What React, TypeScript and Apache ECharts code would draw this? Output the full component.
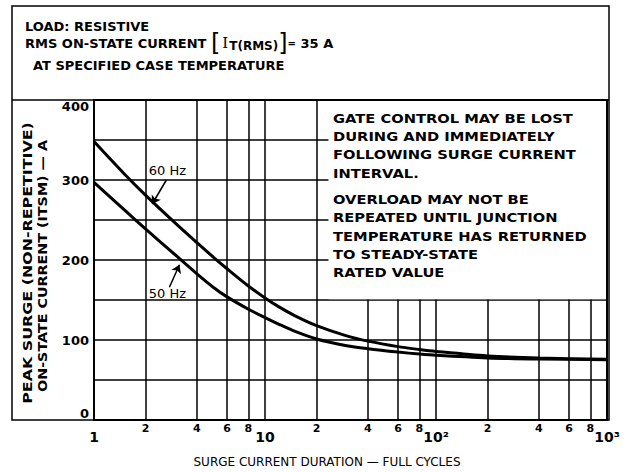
import React, { useEffect, useRef } from 'react';
import * as echarts from 'echarts';

// ---- data ----
const cycles = [1, 1.5, 2, 3, 4, 5, 6, 8, 10, 12, 15, 20, 30, 40, 60, 80, 100, 200, 400, 1000];
const surge60Hz = [348, 307.8, 281.1, 245.8, 221.7, 203.4, 189.1, 167.5, 152.5, 141.7, 130.2, 118, 105.2, 98.6, 91.7, 88.1, 85.7, 80.1, 77.4, 75.9];
const surge50Hz = [297, 262.9, 239, 206, 182.7, 165.7, 153.9, 138.5, 128, 119.9, 110.7, 101.3, 92.9, 89.1, 84.9, 82.4, 80.8, 77.6, 76.2, 75.4];

const xGridValues = [1, 2, 4, 6, 8, 10, 20, 40, 60, 80, 100, 200, 400, 600, 800, 1000];
const xTickLabels = ['1', '2', '4', '6', '8', '10', '2', '4', '6', '8', '10²', '2', '4', '6', '8', '10³'];
const decadeValues = [1, 10, 100, 1000];

const headerLine1 = 'LOAD: RESISTIVE';
const headerLine3 = 'AT SPECIFIED CASE TEMPERATURE';
const noteLines = [
  'GATE CONTROL MAY BE LOST',
  'DURING AND IMMEDIATELY',
  'FOLLOWING SURGE CURRENT',
  'INTERVAL.',
  'OVERLOAD MAY NOT BE',
  'REPEATED UNTIL JUNCTION',
  'TEMPERATURE HAS RETURNED',
  'TO STEADY-STATE',
  'RATED VALUE',
];
const noteY = [118, 136, 154, 173, 199, 217, 236, 254, 272];
const yNameLines = ['PEAK SURGE (NON-REPETITIVE)', 'ON-STATE CURRENT (ITSM) — A'];
const xName = 'SURGE CURRENT DURATION — FULL CYCLES';

const FONT = 'DejaVu Sans';
const G = { left: 94, top: 100, right: 607, bottom: 420 };

export default function App() {
  const ref = useRef<HTMLDivElement>(null);
  useEffect(() => {
    if (!ref.current) return;
    const chart = echarts.init(ref.current, null, { renderer: 'svg' });
    const s60 = cycles.map((c, i) => [c, surge60Hz[i]]);
    const s50 = cycles.map((c, i) => [c, surge50Hz[i]]);

    const graphics: any[] = [
      {
        type: 'rect', z: 100,
        shape: { x: 12, y: 6, width: 597, height: G.bottom - 6 },
        style: { fill: 'none', stroke: '#000', lineWidth: 1.5 },
      },
      {
        type: 'rect', z: 100,
        shape: { x: G.left, y: G.top, width: G.right - G.left, height: G.bottom - G.top },
        style: { fill: 'none', stroke: '#000', lineWidth: 2 },
      },
      {
        type: 'line', z: 100,
        shape: { x1: 12, y1: G.top, x2: 609, y2: G.top },
        style: { stroke: '#000', lineWidth: 1.5 },
      },
      {
        type: 'text', x: 25, y: 26, z: 100,
        style: { text: headerLine1, font: `bold 13px "${FONT}"`, fill: '#000', textVerticalAlign: 'middle' },
      },
      {
        type: 'text', x: 25, y: 43, z: 100,
        style: {
          text: 'RMS ON-STATE CURRENT {b|[}{i|I}{s|T(RMS)}{b|]}{e|=} 35 A',
          font: `bold 13px "${FONT}"`, fill: '#000', textVerticalAlign: 'middle',
          rich: {
            b: { fontSize: 24, fontFamily: FONT, fontWeight: 'normal', lineHeight: 24 },
            i: { fontSize: 15, fontFamily: 'DejaVu Serif', padding: [0, 1, 0, 2] },
            s: { fontSize: 12, fontFamily: FONT, fontWeight: 'bold', padding: [6, 0, 0, 0] },
            e: { fontSize: 10, fontFamily: FONT, fontWeight: 'bold' },
          },
        },
      },
      {
        type: 'text', x: 33, y: 65, z: 100,
        style: { text: headerLine3, font: `bold 13px "${FONT}"`, fill: '#000', textVerticalAlign: 'middle' },
      },
      ...noteLines.map((t, i) => ({
        type: 'text', x: 333, y: noteY[i], z: 100, scaleX: 1.13,
        style: { text: t, font: `bold 13px "${FONT}"`, fill: '#000', textVerticalAlign: 'middle' },
      })),
      {
        type: 'text', x: 28, y: 263, z: 100, rotation: Math.PI / 2, scaleX: 1.22,
        style: { text: yNameLines[0], font: `bold 13px "${FONT}"`, fill: '#000', textAlign: 'center', textVerticalAlign: 'middle' },
      },
      {
        type: 'text', x: 42, y: 266, z: 100, rotation: Math.PI / 2, scaleX: 1.1,
        style: { text: yNameLines[1], font: `bold 13px "${FONT}"`, fill: '#000', textAlign: 'center', textVerticalAlign: 'middle' },
      },
      {
        type: 'text', x: 327, y: 462, z: 100,
        style: { text: xName, font: `12px "${FONT}"`, fill: '#000', textAlign: 'center', textVerticalAlign: 'middle' },
      },
    ];

    chart.setOption({
      animation: false,
      backgroundColor: '#fff',
      grid: {
        left: G.left, top: G.top, right: 627 - G.right, bottom: 472 - G.bottom,
        show: false,
      },
      xAxis: {
        type: 'log', logBase: 10, min: 1, max: 1000,
        axisLine: { show: false },
        axisTick: { show: false, customValues: xGridValues },
        splitLine: { show: true, lineStyle: { color: '#000', width: 1.5 } },
        minorSplitLine: { show: false },
        axisLabel: {
          customValues: xGridValues,
          margin: 3,
          color: '#000',
          fontFamily: FONT,
          fontSize: 11,
          lineHeight: 6,
          formatter: (v: number) => {
            const idx = xGridValues.findIndex((g) => Math.abs(g - v) < 1e-6 * g);
            const txt = idx >= 0 ? xTickLabels[idx] : '';
            if (decadeValues.some((d) => Math.abs(d - v) < 1e-6 * d)) return `\n{d|${txt}}`;
            return `{m|${txt}}`;
          },
          rich: {
            m: { fontSize: 11, fontFamily: FONT, fontWeight: 'bold', lineHeight: 10 },
            d: { fontSize: 14, fontFamily: FONT, fontWeight: 'bold', lineHeight: 16 },
          },
        },
      },
      yAxis: {
        type: 'value', min: 0, max: 400, interval: 50,
        axisLine: { show: false },
        axisTick: { show: false },
        splitLine: { show: true, lineStyle: { color: '#000', width: 1.5 } },
        axisLabel: {
          color: '#000', fontFamily: FONT, fontSize: 13, fontWeight: 'bold', margin: 5,
          verticalAlignMaxLabel: 'top', verticalAlignMinLabel: 'bottom',
          formatter: (v: number) => (v % 100 === 0 ? String(v) : ''),
        },
      },
      graphic: graphics,
      series: [
        {
          name: '60 Hz', type: 'line', data: s60, smooth: 0.3, showSymbol: false,
          lineStyle: { color: '#000', width: 3 }, itemStyle: { color: '#000' },
          markArea: {
            silent: true,
            itemStyle: { color: '#fff', borderWidth: 0 },
            data: [[{ xAxis: 23.5, yAxis: 151 }, { xAxis: 1000, yAxis: 400 }]],
          },
          markLine: {
            silent: true, symbol: ['none', 'arrow'], symbolSize: 8,
            label: { show: false },
            lineStyle: { color: '#000', width: 1.5, type: 'solid' },
            data: [[{ coord: [2.65, 300] }, { coord: [2.19, 270] }]],
          },
          markPoint: {
            silent: true, symbol: 'circle', symbolSize: 0,
            label: { show: true, position: 'inside', color: '#000', fontFamily: FONT, fontSize: 13, formatter: '60 Hz' },
            data: [{ coord: [2.69, 312] }],
          },
        },
        {
          name: '50 Hz', type: 'line', data: s50, smooth: 0.3, showSymbol: false,
          lineStyle: { color: '#000', width: 3 }, itemStyle: { color: '#000' },
          markLine: {
            silent: true, symbol: ['none', 'arrow'], symbolSize: 8,
            label: { show: false },
            lineStyle: { color: '#000', width: 1.5, type: 'solid' },
            data: [[{ coord: [2.76, 166] }, { coord: [3.16, 194] }]],
          },
          markPoint: {
            silent: true, symbol: 'circle', symbolSize: 0,
            label: { show: true, position: 'inside', color: '#000', fontFamily: FONT, fontSize: 13, formatter: '50 Hz' },
            data: [{ coord: [2.69, 158] }],
          },
        },
      ],
    });
    return () => chart.dispose();
  }, []);
  return (
    <div
      ref={ref}
      style={{ position: 'fixed', left: 0, top: 0, width: 627, height: 472, background: '#fff' }}
    />
  );
}
